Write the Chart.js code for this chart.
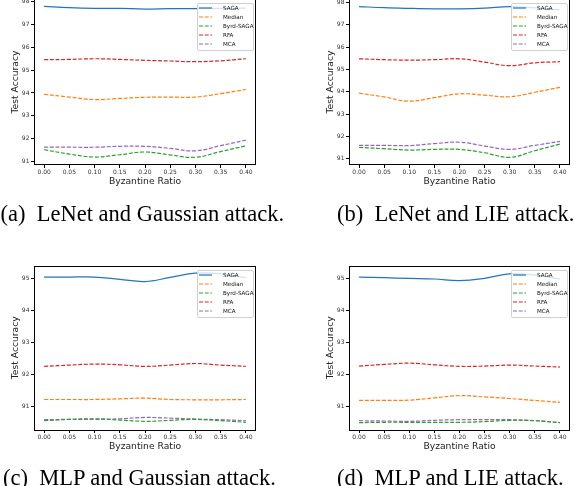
<!DOCTYPE html>
<html>
<head>
<meta charset="utf-8">
<script src="https://cdn.jsdelivr.net/npm/chart.js@4.4.1/dist/chart.umd.min.js"></script>
<style>
body { margin:0; width:574px; height:486px; overflow:hidden; background:#fff; position:relative; }
.panel { position:absolute; width:287px; height:230px; }
.cap { position:absolute; font-family:"Liberation Serif", "Times New Roman", serif; font-size:22.5px; line-height:1; color:#000; white-space:pre; }
</style>
</head>
<body>
<div class="panel" style="left:0;top:-20px"><canvas id="chartA"></canvas></div>
<div class="panel" style="left:287px;top:-20px"><canvas id="chartB"></canvas></div>
<div class="panel" style="left:0;top:245px"><canvas id="chartC"></canvas></div>
<div class="panel" style="left:287px;top:245px"><canvas id="chartD"></canvas></div>

<div class="cap" style="left:0.5px;top:203px">(a)  LeNet and Gaussian attack.</div>
<div class="cap" style="left:337px;top:203px">(b)  LeNet and LIE attack.</div>
<div class="cap" style="left:3px;top:467px">(c)  MLP and Gaussian attack.</div>
<div class="cap" style="left:337px;top:467px">(d)  MLP and LIE attack.</div>

<script>
// x axis: byzantine ratio
const ratios = [0.00, 0.05, 0.10, 0.15, 0.20, 0.25, 0.30, 0.35, 0.40];
const seriesNames = ['SAGA', 'Median', 'Byrd-SAGA', 'RFA', 'MCA'];
const seriesColors = ['#1f77b4', '#ff7f0e', '#2ca02c', '#d62728', '#9467bd'];

// (a) LeNet, Gaussian attack
const sagaA   = [97.80, 97.74, 97.71, 97.71, 97.68, 97.70, 97.70, 97.71, 97.72];
const medianA = [93.94, 93.82, 93.71, 93.76, 93.81, 93.82, 93.82, 93.97, 94.15];
const byrdA   = [91.51, 91.32, 91.19, 91.29, 91.41, 91.28, 91.18, 91.43, 91.68];
const rfaA    = [95.46, 95.47, 95.50, 95.47, 95.43, 95.40, 95.37, 95.41, 95.50];
const mcaA    = [91.62, 91.62, 91.62, 91.66, 91.66, 91.57, 91.46, 91.69, 91.93];
const ticksA  = [91, 92, 93, 94, 95, 96, 97, 98];

// (b) LeNet, LIE attack
const sagaB   = [97.82, 97.77, 97.74, 97.72, 97.72, 97.75, 97.82, 97.76, 97.67];
const medianB = [93.94, 93.77, 93.58, 93.74, 93.91, 93.85, 93.78, 93.98, 94.20];
const byrdB   = [91.51, 91.45, 91.39, 91.42, 91.42, 91.27, 91.06, 91.36, 91.66];
const rfaB    = [95.48, 95.44, 95.42, 95.44, 95.48, 95.33, 95.17, 95.30, 95.35];
const mcaB    = [91.60, 91.60, 91.59, 91.68, 91.74, 91.57, 91.42, 91.60, 91.78];
const ticksB  = [91, 92, 93, 94, 95, 96, 97, 98];

// (c) MLP, Gaussian attack
const sagaC   = [95.04, 95.04, 95.04, 94.97, 94.90, 95.03, 95.16, 95.14, 95.02];
const medianC = [91.23, 91.23, 91.23, 91.25, 91.27, 91.23, 91.22, 91.22, 91.23];
const byrdC   = [90.57, 90.61, 90.63, 90.59, 90.55, 90.58, 90.61, 90.57, 90.52];
const rfaC    = [92.26, 92.30, 92.33, 92.31, 92.26, 92.30, 92.35, 92.30, 92.26];
const mcaC    = [90.60, 90.61, 90.61, 90.63, 90.67, 90.65, 90.62, 90.60, 90.57];
const ticksC  = [91, 92, 93, 94, 95];

// (d) MLP, LIE attack
const sagaD   = [95.04, 95.02, 95.00, 94.98, 94.93, 95.00, 95.14, 95.10, 94.98];
const medianD = [91.20, 91.20, 91.21, 91.28, 91.35, 91.31, 91.26, 91.20, 91.14];
const byrdD   = [90.51, 90.52, 90.52, 90.52, 90.52, 90.54, 90.58, 90.57, 90.51];
const rfaD    = [92.27, 92.32, 92.36, 92.31, 92.26, 92.27, 92.30, 92.27, 92.24];
const mcaD    = [90.57, 90.56, 90.55, 90.58, 90.60, 90.60, 90.60, 90.57, 90.51];
const ticksD  = [91, 92, 93, 94, 95];

// frame round the plot + matplotlib style legend in the top right corner
const frameLegend = {
    id: 'frameLegend',
    afterDatasetsDraw(chart) {
        const ctx = chart.ctx;
        const a = chart.chartArea;
        ctx.save();
        ctx.strokeStyle = '#000';
        ctx.lineWidth = 1;
        ctx.strokeRect(Math.round(a.left) + 0.5, Math.round(a.top) + 0.5,
            Math.round(a.right - a.left) - 1, Math.round(a.bottom - a.top) - 1);

        const w = 56, h = 47;
        const lx = Math.round(a.right) - 3 - w;
        const ly = Math.round(a.top) + 4;
        ctx.fillStyle = 'rgba(255,255,255,0.8)';
        ctx.strokeStyle = '#d0d0d0';
        ctx.beginPath();
        ctx.roundRect(lx + 0.5, ly + 0.5, w, h, 1.5);
        ctx.fill();
        ctx.stroke();

        chart.data.datasets.forEach((ds, i) => {
            const y = ly + 5 + i * 9;
            ctx.strokeStyle = ds.borderColor;
            ctx.lineWidth = 1.2;
            ctx.setLineDash(ds.borderDash || []);
            ctx.beginPath();
            ctx.moveTo(lx + 2, y);
            ctx.lineTo(lx + 15, y);
            ctx.stroke();
            ctx.setLineDash([]);
            ctx.fillStyle = '#111';
            ctx.font = '5.6px "DejaVu Sans"';
            ctx.textBaseline = 'middle';
            ctx.fillText(ds.label, lx + 26, y + 0.5);
        });
        ctx.restore();
    }
};

function makeChart(id, lists, yMin, yMax, yTicks, axisW, yTitlePad, padRight, padTop) {
    const datasets = lists.map((vals, i) => ({
        label: seriesNames[i],
        data: vals.map((v, j) => ({x: ratios[j], y: v})),
        borderColor: seriesColors[i],
        borderWidth: 1.2,
        borderDash: i === 0 ? [] : [4, 1.7],
        pointRadius: 0,
        tension: 0.4,
        fill: false
    }));
    return new Chart(document.getElementById(id), {
        type: 'line',
        data: {datasets: datasets},
        options: {
            responsive: true,
            maintainAspectRatio: false,
            animation: false,
            layout: {autoPadding: false, padding: {left: 0, right: padRight, top: padTop, bottom: 0}},
            plugins: {legend: {display: false}, tooltip: {enabled: false}},
            scales: {
                x: {
                    type: 'linear',
                    min: -0.02,
                    max: 0.42,
                    afterBuildTicks: s => { s.ticks = ratios.map(v => ({value: v})); },
                    afterFit: s => { s.height = 45; },
                    border: {display: false},
                    grid: {drawOnChartArea: false, tickLength: 3, tickColor: '#000'},
                    ticks: {
                        callback: v => v.toFixed(2),
                        font: {family: 'DejaVu Sans', size: 6},
                        color: '#333',
                        padding: 1,
                        maxRotation: 0,
                        autoSkip: false
                    },
                    title: {
                        display: true,
                        text: 'Byzantine Ratio',
                        font: {family: 'DejaVu Sans', size: 9.2},
                        color: '#222',
                        padding: {top: 0, bottom: 22.5}
                    }
                },
                y: {
                    min: yMin,
                    max: yMax,
                    afterBuildTicks: s => { s.ticks = yTicks.map(v => ({value: v})); },
                    afterFit: s => { s.width = axisW; },
                    border: {display: false},
                    grid: {drawOnChartArea: false, tickLength: 3, tickColor: '#000'},
                    ticks: {
                        font: {family: 'DejaVu Sans', size: 6},
                        color: '#333',
                        padding: 1.5
                    },
                    title: {
                        display: true,
                        text: 'Test Accuracy',
                        font: {family: 'DejaVu Sans', size: 9.2},
                        color: '#222',
                        padding: {top: yTitlePad, bottom: 0}
                    }
                }
            }
        },
        plugins: [frameLegend]
    });
}

makeChart('chartA', [sagaA, medianA, byrdA, rfaA, mcaA], 90.84, 98.12, ticksA, 34, 10.3, 31, 19);
makeChart('chartB', [sagaB, medianB, byrdB, rfaB, mcaB], 90.72, 98.16, ticksB, 62, 38.2, 4, 19);
makeChart('chartC', [sagaC, medianC, byrdC, rfaC, mcaC], 90.28, 95.40, ticksC, 34, 10.3, 31, 20.5);
makeChart('chartD', [sagaD, medianD, byrdD, rfaD, mcaD], 90.28, 95.40, ticksD, 62, 38.2, 4, 20.5);
</script>
</body>
</html>
